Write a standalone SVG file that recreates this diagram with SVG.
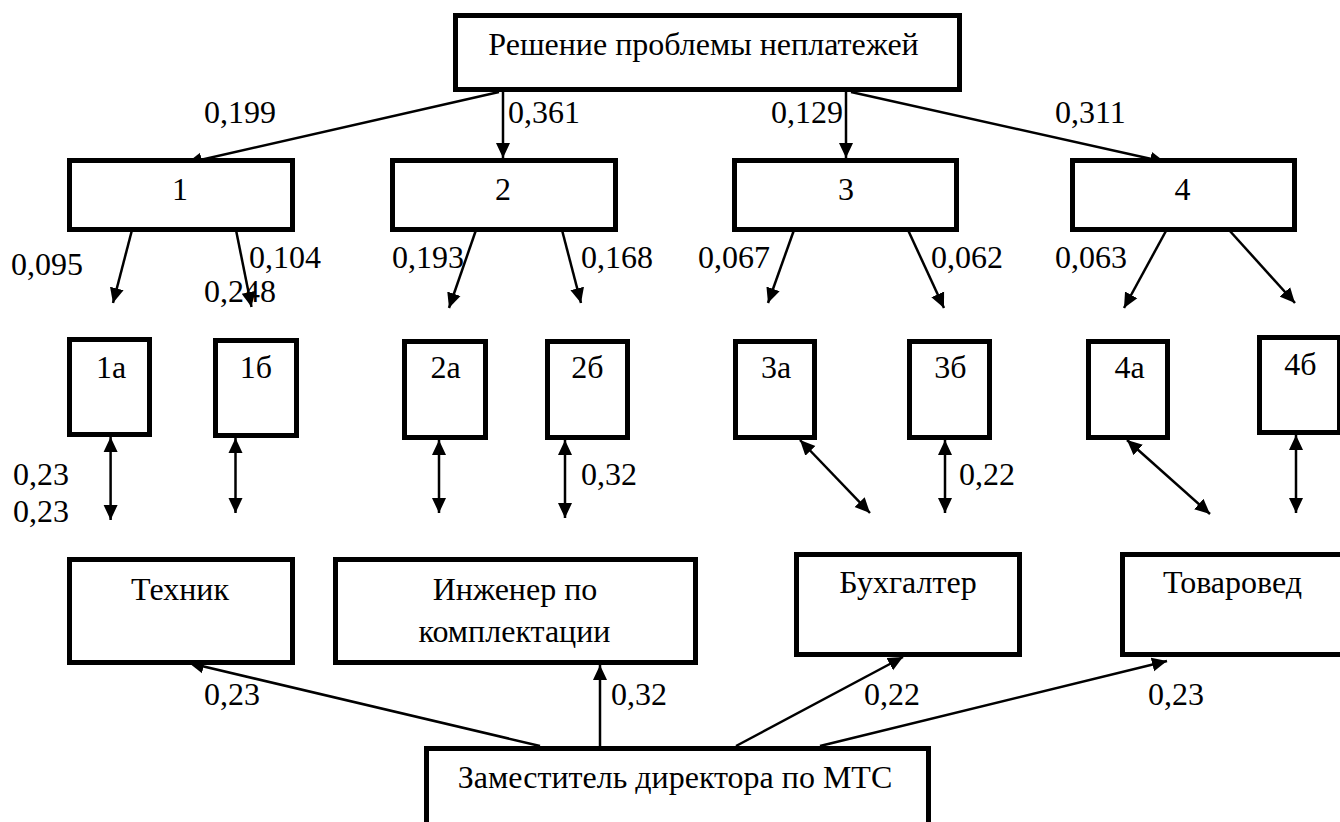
<svg xmlns="http://www.w3.org/2000/svg" width="1340" height="822" viewBox="0 0 1340 822">
<defs>
<style>
.box{fill:#fff;stroke:#000;stroke-width:5}
.t{font-family:"Liberation Serif","Times New Roman",serif;font-size:32px;fill:#000}
.c{text-anchor:middle}
.ln{stroke:#000;stroke-width:2.5;fill:none;marker-end:url(#ah)}
.dl{stroke:#000;stroke-width:2.5;fill:none;marker-start:url(#ah);marker-end:url(#ah)}
</style>
<marker id="ah" markerUnits="userSpaceOnUse" markerWidth="16" markerHeight="15" refX="15" refY="7" orient="auto-start-reverse" viewBox="0 0 16 14">
<path d="M0,0 L15,7 L0,14 z" fill="#000"/>
</marker>
</defs>
<rect width="1340" height="822" fill="#fff"/>
<g id="connectors">
<line class="ln" x1="499" y1="92" x2="187" y2="163"/>
<line class="ln" x1="503" y1="92" x2="503" y2="158"/>
<line class="ln" x1="846" y1="92" x2="846" y2="158"/>
<line class="ln" x1="851" y1="92" x2="1165" y2="162"/>
<line class="ln" x1="132" y1="230" x2="113" y2="303"/>
<line class="ln" x1="236" y1="230" x2="251.5" y2="307"/>
<line class="ln" x1="476" y1="230" x2="449" y2="308"/>
<line class="ln" x1="562" y1="230" x2="581" y2="303"/>
<line class="ln" x1="794" y1="230" x2="768" y2="303"/>
<line class="ln" x1="908" y1="230" x2="944" y2="308"/>
<line class="ln" x1="1166.5" y1="230" x2="1124" y2="308"/>
<line class="ln" x1="1229" y1="230" x2="1295" y2="303"/>
<line class="dl" x1="110.6" y1="437" x2="110.6" y2="520"/>
<line class="dl" x1="235.5" y1="438" x2="235.5" y2="513"/>
<line class="dl" x1="439" y1="440" x2="439" y2="513"/>
<line class="dl" x1="565" y1="440" x2="565" y2="518"/>
<line class="dl" x1="800" y1="440" x2="870" y2="513"/>
<line class="dl" x1="945" y1="440" x2="945" y2="513"/>
<line class="dl" x1="1127" y1="440" x2="1210" y2="514"/>
<line class="dl" x1="1296" y1="435" x2="1296" y2="513"/>
<line class="ln" x1="540" y1="746" x2="189" y2="663"/>
<line class="ln" x1="600" y1="746" x2="600" y2="665"/>
<line class="ln" x1="736" y1="746" x2="903" y2="657"/>
<line class="ln" x1="820" y1="746" x2="1167" y2="661"/>
<g class="t">
<text x="204" y="123">0,199</text>
<text x="508" y="123">0,361</text>
<text x="771" y="123">0,129</text>
<text x="1055" y="123">0,311</text>
<text x="11" y="275">0,095</text>
<text x="249" y="268">0,104</text>
<text x="204" y="302">0,248</text>
<text x="392" y="268">0,193</text>
<text x="581" y="268">0,168</text>
<text x="698" y="268">0,067</text>
<text x="931" y="268">0,062</text>
<text x="1055" y="268">0,063</text>
<text x="13" y="485">0,23</text>
<text x="13" y="522">0,23</text>
<text x="581" y="485">0,32</text>
<text x="959" y="485">0,22</text>
<text x="204" y="705">0,23</text>
<text x="611" y="705">0,32</text>
<text x="864" y="705">0,22</text>
<text x="1148" y="705">0,23</text>
</g>
</g>
<g id="n-top"><rect class="box" x="455.5" y="15.5" width="504" height="74"/><text class="t c" x="703.5" y="55">Решение проблемы неплатежей</text></g>
<g id="n-1"><rect class="box" x="69.5" y="160.5" width="223" height="69"/><text class="t c" x="180" y="200">1</text></g>
<g id="n-2"><rect class="box" x="392.5" y="160.5" width="223" height="69"/><text class="t c" x="503" y="200">2</text></g>
<g id="n-3"><rect class="box" x="734.5" y="160.5" width="222" height="69"/><text class="t c" x="846" y="200">3</text></g>
<g id="n-4"><rect class="box" x="1072.5" y="160.5" width="222" height="69"/><text class="t c" x="1182.5" y="200">4</text></g>
<g id="n-1a"><rect class="box" x="69.5" y="339.5" width="80" height="95"/><text class="t c" x="111" y="378">1а</text></g>
<g id="n-1b"><rect class="box" x="215.5" y="340.5" width="81" height="95"/><text class="t c" x="256" y="378">1б</text></g>
<g id="n-2a"><rect class="box" x="404.5" y="341.5" width="81" height="96"/><text class="t c" x="445.5" y="378">2а</text></g>
<g id="n-2b"><rect class="box" x="547.5" y="341.5" width="80" height="96"/><text class="t c" x="587.5" y="378">2б</text></g>
<g id="n-3a"><rect class="box" x="735.5" y="341.5" width="79" height="96"/><text class="t c" x="776" y="378">3а</text></g>
<g id="n-3b"><rect class="box" x="909.5" y="341.5" width="80" height="96"/><text class="t c" x="950.5" y="378">3б</text></g>
<g id="n-4a"><rect class="box" x="1088.5" y="341.5" width="79" height="96"/><text class="t c" x="1129.5" y="378">4а</text></g>
<g id="n-4b"><rect class="box" x="1259.5" y="337.5" width="80" height="95"/><text class="t c" x="1300.5" y="375">4б</text></g>
<g id="n-tech"><rect class="box" x="69.5" y="559.5" width="223" height="103"/><text class="t c" x="180" y="600">Техник</text></g>
<g id="n-eng"><rect class="box" x="335.5" y="559.5" width="360" height="103"/><text class="t c" x="515" y="600">Инженер по</text><text class="t c" x="514.5" y="642">комплектации</text></g>
<g id="n-buh"><rect class="box" x="796.5" y="554.5" width="223" height="100"/><text class="t c" x="908" y="593">Бухгалтер</text></g>
<g id="n-tov"><rect class="box" x="1122.5" y="554.5" width="240" height="100"/><text class="t c" x="1232.5" y="593">Товаровед</text></g>
<g id="n-dir"><rect class="box" x="426.5" y="748.5" width="502" height="90"/><text class="t c" x="675" y="788">Заместитель директора по МТС</text></g>
</svg>
